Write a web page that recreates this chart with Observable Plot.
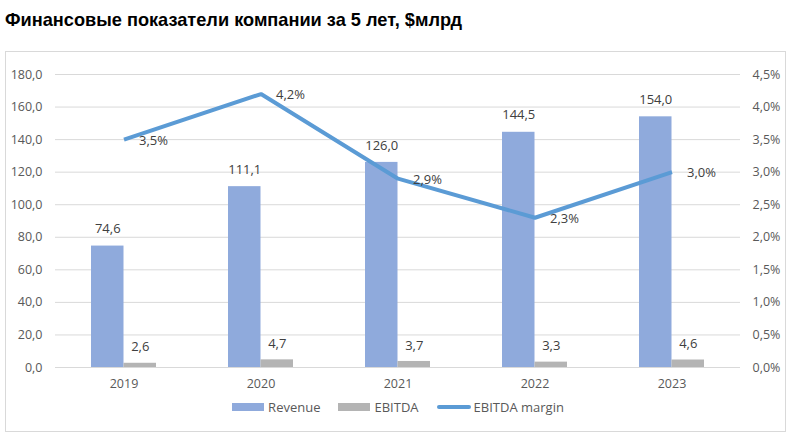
<!DOCTYPE html>
<html>
<head>
<meta charset="utf-8">
<script src="https://cdn.jsdelivr.net/npm/d3@7"></script>
<script src="https://cdn.jsdelivr.net/npm/@observablehq/plot@0.6"></script>
<style>
  html, body { margin: 0; padding: 0; background: #fff; }
  #wrap { position: relative; width: 796px; height: 442px; overflow: hidden; font-family: "Open Sans", sans-serif; }
  #title { position: absolute; left: 5px; top: 10px; font-family: "Liberation Sans", Arial, sans-serif; font-weight: bold; font-size: 18.2px; color: #000; white-space: nowrap; }
  #frame { position: absolute; left: 5px; top: 51px; width: 779px; height: 379px; border: 1px solid #D9D9D9; }
  #chart { position: absolute; left: 0; top: 40px; }
  #legend { position: absolute; left: 0; width: 796px; top: 398px; display: flex; justify-content: center; align-items: center; font-size: 13px; color: #595959; }
  .item { display: flex; align-items: center; margin: 0 9px; }
  .sw { width: 32px; height: 8px; margin-right: 4px; }
  .ln { width: 34px; height: 4px; border-radius: 2px; margin-right: 3px; }
</style>
</head>
<body>
<div id="wrap">
  <div id="title">Финансовые показатели компании за 5 лет, $млрд</div>
  <div id="frame"></div>
  <div id="chart"></div>
  <div id="legend"></div>
</div>
<script>
const years = ["2019", "2020", "2021", "2022", "2023"];
const revenue = [74.6, 111.1, 126.0, 144.5, 154.0];
const ebitda = [2.6, 4.7, 3.7, 3.3, 4.6];
const margin = [3.5, 4.2, 2.9, 2.3, 3.0];
const leftTicks = [0, 20, 40, 60, 80, 100, 120, 140, 160, 180];
const seriesNames = ["Revenue", "EBITDA", "EBITDA margin"];
const colors = ["#8FAADC", "#B4B4B4", "#5B9BD5"];

const K = 180 / 4.5; // right axis percent -> left axis units
const rows = years.map((y, i) => ({year: y, revenue: revenue[i], ebitda: ebitda[i], margin: margin[i]}));
const fmt1 = v => v.toFixed(1).replace(".", ",");

const halfBand = (740 - 55) / years.length / 2;
const barW = 32.5;

const chart = Plot.plot({
  width: 796,
  height: 360,
  marginLeft: 55,
  marginRight: 56,
  marginTop: 34,
  marginBottom: 33,
  style: {fontFamily: "Open Sans, sans-serif", fontSize: "12.5px", color: "#595959", background: "transparent"},
  x: {type: "band", domain: years, padding: 0, label: null},
  y: {domain: [0, 180], label: null},
  marks: [
    Plot.gridY(leftTicks, {stroke: "#D9D9D9", strokeOpacity: 1}),
    Plot.axisY(leftTicks, {anchor: "left", tickSize: 0, tickPadding: 13, tickFormat: fmt1, fill: "#595959", label: null}),
    Plot.axisY(leftTicks, {anchor: "right", tickSize: 0, tickPadding: 12, tickFormat: d => fmt1(d / K) + "%", fill: "#595959", label: null}),
    Plot.axisX({tickSize: 0, tickPadding: 12, fill: "#595959", label: null}),
    Plot.barY(rows, {x: "year", y: "revenue", fill: colors[0], insetLeft: halfBand - barW, insetRight: halfBand}),
    Plot.barY(rows, {x: "year", y: "ebitda", fill: colors[1], insetLeft: halfBand, insetRight: halfBand - barW}),
    Plot.text(rows, {x: "year", y: "revenue", text: d => fmt1(d.revenue), dx: -barW / 2, dy: -17, fill: "#404040", fontSize: 13}),
    Plot.text(rows, {x: "year", y: "ebitda", text: d => fmt1(d.ebitda), dx: barW / 2, dy: -16, fill: "#404040", fontSize: 13}),
    Plot.line(rows, {x: "year", y: d => d.margin * K, stroke: colors[2], strokeWidth: 4, strokeLinejoin: "miter", strokeLinecap: "butt"}),
    Plot.text(rows, {x: "year", y: d => d.margin * K, text: d => fmt1(d.margin) + "%", textAnchor: "start", dx: 15, dy: 1, fill: "#404040", fontSize: 13})
  ]
});
document.getElementById("chart").appendChild(chart);

const legend = document.getElementById("legend");
seriesNames.forEach((name, i) => {
  const item = document.createElement("div");
  item.className = "item";
  const sw = document.createElement("div");
  sw.className = i === 2 ? "ln" : "sw";
  sw.style.background = colors[i];
  const t = document.createElement("span");
  t.textContent = name;
  item.appendChild(sw);
  item.appendChild(t);
  legend.appendChild(item);
});
</script>
</body>
</html>
